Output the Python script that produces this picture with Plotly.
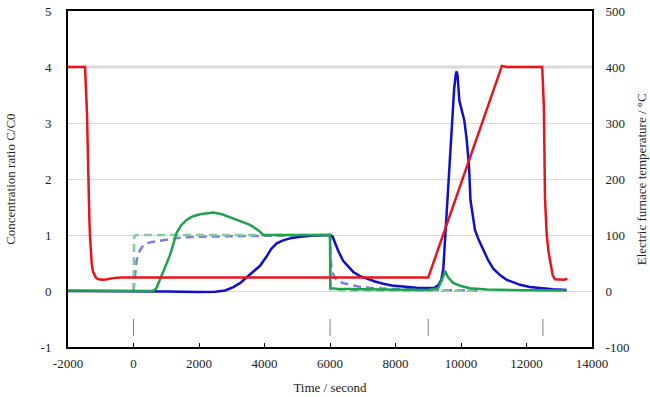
import plotly.graph_objects as go

# ---- data ----
temp_t = [-2000, -1480, -1420, -1380, -1350, -1330, -1300, -1277, -1240, -1197, -1150, -1075, -920, -800, -617, -400, 0,
          9000, 11250, 11400, 12480, 12530, 12565, 12615, 12665, 12740, 12800, 12870, 13000, 13150, 13250]
temp_v = [400, 400, 318, 162, 133, 100, 70, 50, 35, 29, 24, 21, 20, 21, 23, 24, 24,
          24, 402, 400, 400, 330, 165, 103, 73, 43, 28, 21, 20, 20, 22]

blue_t = [-2000, 500, 1000, 2000, 2500, 2800, 3048, 3250, 3456, 3650, 3863, 4068, 4200, 4373, 4550, 4780, 5100, 5490, 6000,
          6080, 6150, 6250, 6400, 6560, 6712, 6900, 7119, 7374, 7628, 7884, 8137, 8393, 8646, 8900, 9105,
          9200, 9300, 9400, 9460, 9500, 9532, 9560, 9593, 9650, 9720, 9790, 9840, 9868, 9895, 9918, 9950, 9970,
          10030, 10100, 10175, 10245, 10290, 10380, 10427, 10550, 10680, 10830, 10985, 11200, 11396, 11600, 11802,
          12100, 12412, 12800, 13227]
blue_v = [0.0, 0.0, -0.01, -0.02, -0.015, 0.01, 0.07, 0.14, 0.24, 0.33, 0.45, 0.62, 0.75, 0.85, 0.9, 0.94, 0.97, 0.99, 1.0,
          0.97, 0.86, 0.72, 0.54, 0.43, 0.34, 0.27, 0.22, 0.17, 0.13, 0.1, 0.085, 0.07, 0.06, 0.055, 0.05,
          0.06, 0.1, 0.2, 0.4, 0.8, 1.03, 1.4, 1.62, 2.2, 2.9, 3.6, 3.87, 3.92, 3.85, 3.59, 3.4, 3.35,
          3.2, 3.05, 2.7, 2.22, 1.62, 1.28, 1.09, 0.9, 0.73, 0.55, 0.4, 0.28, 0.2, 0.15, 0.11,
          0.07, 0.05, 0.03, 0.02]

green_t = [-2000, 0, 600, 700, 809, 950, 1114, 1318, 1450, 1623, 1800, 2031, 2438, 2700, 3048, 3300, 3557, 3800, 3964,
           4200, 6000, 6010, 6200, 7000, 8000, 9000, 9300, 9420, 9511, 9600, 9766, 10000, 10275, 10785, 12000, 13200]
green_v = [0.01, 0.0, 0.0, 0.05, 0.2, 0.4, 0.64, 1.04, 1.17, 1.27, 1.33, 1.37, 1.4, 1.37, 1.3, 1.24, 1.18, 1.09, 1.0,
           1.0, 1.0, 0.05, 0.04, 0.03, 0.02, 0.02, 0.05, 0.2, 0.36, 0.25, 0.14, 0.09, 0.05, 0.025, 0.015, 0.01]

blue_ref_t = [0, 30, 66, 97, 150, 200, 300, 450, 605, 1013, 1522, 2031, 3000, 4000, 6000,
              6020, 6050, 6120, 6204, 6400, 6600, 6865, 7200, 7680, 8500, 9000, 9500, 10500]
blue_ref_v = [0.0, 0.2, 0.4, 0.55, 0.66, 0.73, 0.82, 0.86, 0.88, 0.92, 0.96, 0.97, 0.98, 0.99, 1.0,
              0.6, 0.37, 0.27, 0.2, 0.14, 0.11, 0.08, 0.06, 0.04, 0.03, 0.02, 0.015, 0.01]

green_ref_t = [0, 20, 100, 6000, 6020, 6500, 10500]
green_ref_v = [0.0, 0.98, 1.0, 1.0, 0.03, 0.01, 0.005]

event_times = [0, 6000, 9000, 12500]
event_mark_range = [-0.5, -0.8]

x_ticks = [-2000, 0, 2000, 4000, 6000, 8000, 10000, 12000, 14000]
y_ticks = [-1, 0, 1, 2, 3, 4, 5]
y2_ticks = [-100, 0, 100, 200, 300, 400, 500]

x_title = "Time / second"
y_title = "Concentration ratio C/C0"
y2_title = "Electric furnace temperature / °C"

# ---- figure ----
fig = go.Figure()
font_family = "Times New Roman, Liberation Serif, DejaVu Serif, serif"

mx, my = [], []
for t in event_times:
    mx += [t, t, None]
    my += [event_mark_range[0], event_mark_range[1], None]
fig.add_trace(go.Scatter(x=mx, y=my, mode="lines", line=dict(color="#7f7f7f", width=1), showlegend=False, hoverinfo="skip"))

fig.add_trace(go.Scatter(x=temp_t, y=temp_v, mode="lines", yaxis="y2",
                         line=dict(color="#e8141c", width=2.5), showlegend=False))
fig.add_trace(go.Scatter(x=blue_ref_t, y=blue_ref_v, mode="lines",
                         line=dict(color="#7b7ee2", width=2.5, dash="8px,5px"), showlegend=False))
fig.add_trace(go.Scatter(x=green_ref_t, y=green_ref_v, mode="lines",
                         line=dict(color="#82cc9c", width=2.5, dash="8px,5px"), showlegend=False))
fig.add_trace(go.Scatter(x=blue_t, y=blue_v, mode="lines",
                         line=dict(color="#1010c8", width=2.5), showlegend=False))
fig.add_trace(go.Scatter(x=green_t, y=green_v, mode="lines",
                         line=dict(color="#1ea24e", width=2.5), showlegend=False))

fig.add_shape(type="line", xref="paper", x0=0, x1=1, yref="y", y0=y_ticks[5], y1=y_ticks[5],
              line=dict(color="#d9d9d9", width=3), layer="below")

fig.add_annotation(text=y_title, xref="paper", yref="paper", x=-0.111, y=0.5, textangle=-90,
                   showarrow=False, xanchor="center", yanchor="middle", font=dict(size=13))
fig.add_annotation(text=y2_title, xref="paper", yref="paper", x=1.094, y=0.5, textangle=-90,
                   showarrow=False, xanchor="center", yanchor="middle", font=dict(size=13))

fig.update_layout(
    width=650, height=397,
    margin=dict(l=68, r=58, t=11, b=50),
    paper_bgcolor="white", plot_bgcolor="white",
    font=dict(family=font_family, size=13, color="#222222"),
    xaxis=dict(range=[-2000, 14000], tickvals=x_ticks, ticktext=[str(v) for v in x_ticks],
               showline=True, linecolor="black", linewidth=2, mirror=True,
               ticks="inside", ticklen=4, tickcolor="black", tickwidth=1,
               showgrid=False, zeroline=False, automargin=False, ticklabelstandoff=3,
               title=dict(text=x_title, standoff=13, font=dict(size=13))),
    yaxis=dict(range=[-1, 5], tickvals=y_ticks, ticktext=[str(v) for v in y_ticks],
               showline=True, linecolor="black", linewidth=2, mirror=True,
               ticks="", showgrid=True, gridcolor="#d9d9d9", gridwidth=1, zeroline=False,
               ticklabelstandoff=12, automargin=False),
    yaxis2=dict(range=[-100, 500], tickvals=y2_ticks, ticktext=[str(v) for v in y2_ticks],
                overlaying="y", side="right", showline=True, linecolor="black", linewidth=2,
                ticks="", showgrid=False, zeroline=False, ticklabelstandoff=9, automargin=False),
)

fig.write_html("out.html", config={"displayModeBar": False},
               post_script="document.body.style.margin='0';")
